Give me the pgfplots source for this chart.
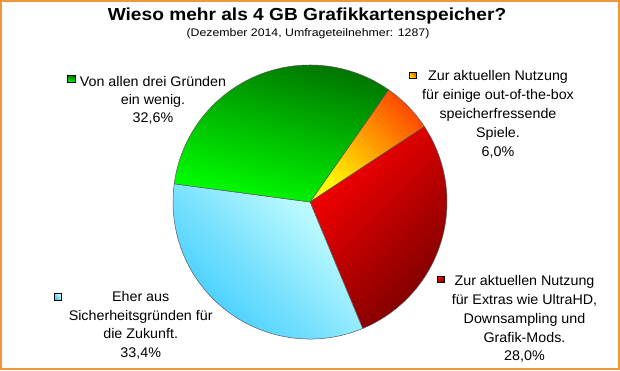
\documentclass[border=0pt]{standalone}
\usepackage{pgfplots}
\pgfplotsset{compat=1.18}
\usepackage{fontspec}
\setmainfont{Liberation Sans}
\newfontfamily\labelfont{Liberation Sans}[FakeStretch=1.025]
\newfontfamily\titlefont{Liberation Sans}[FakeStretch=1.097]
\newfontfamily\subfont{Liberation Sans}[FakeStretch=1.124]

\definecolor{frame}{RGB}{240,150,60}
\definecolor{grA}{RGB}{0,255,0}
\definecolor{grB}{RGB}{0,112,0}
\definecolor{orA}{RGB}{255,255,0}
\definecolor{orB}{RGB}{255,75,0}
\definecolor{rdA}{RGB}{255,0,0}
\definecolor{rdB}{RGB}{118,0,0}
\definecolor{blA}{RGB}{204,255,255}
\definecolor{blB}{RGB}{51,200,255}
\definecolor{edge}{RGB}{90,90,90}

% survey shares in percent
\def\vOr{6.0}
\def\vRd{28.0}
\def\vBl{33.4}
\def\vGr{32.6}
\def\startangle{55}
\pgfmathsetmacro\aOr{\startangle}
\pgfmathsetmacro\aRd{\aOr-3.6*\vOr}
\pgfmathsetmacro\aBl{\aRd-3.6*\vRd}
\pgfmathsetmacro\aGr{\aBl-3.6*\vBl}
\pgfmathsetmacro\aEnd{\aGr-3.6*\vGr}

\newcommand\slice[5]{%
  \shadedraw[top color=#3,bottom color=#4,shading angle=#5,draw=edge,line width=0.5bp]
    (axis cs:310,168) -- ++(#1:137bp) arc[start angle=#1,end angle=#2,radius=137bp] -- cycle;}
\newcommand\lab[3]{\node[anchor=base,inner sep=0pt,font=\labelfont\fontsize{14}{17}\selectfont] at (axis cs:#1,#2) {#3};}
\newcommand\legmark[7]{%
  \shadedraw[top color=#5,bottom color=#6,shading angle=#7,draw=black,line width=0.6bp]
    (axis cs:#1,#2) rectangle (axis cs:#3,#4);}

\begin{document}
\begin{tikzpicture}
\begin{axis}[
  width=620bp, height=370bp, scale only axis,
  xmin=0, xmax=620, ymin=0, ymax=370,
  hide axis, clip=false]
% frame
\draw[frame, line width=1.6bp] (axis cs:0.8,0.8) rectangle (axis cs:619.2,369.2);
% title
\node[anchor=base,inner sep=0pt] at (axis cs:307,349.3)
  {\titlefont\fontsize{17.5}{20}\selectfont\bfseries Wieso mehr als 4 GB Grafikkartenspeicher?};
\node[anchor=base,inner sep=0pt] at (axis cs:308,333.3)
  {\subfont\fontsize{11}{13}\selectfont (Dezember 2014, Umfrageteilnehmer: 1287)};
% pie
\slice{\aOr}{\aRd}{orB}{orA}{-45}
\slice{\aRd}{\aBl}{rdA}{rdB}{45}
\slice{\aBl}{\aGr}{blA}{blB}{-45}
\slice{\aGr}{\aEnd}{grB}{grA}{-15}
% labels: orange
\legmark{409}{291.3}{416.3}{298}{orB}{orA}{-45}
\lab{498}{289.3}{Zur aktuellen Nutzung}
\lab{498}{270.3}{für einige out-of-the-box}
\lab{498}{251.3}{speicherfressende}
\lab{498}{232.3}{Spiele.}
\lab{498}{213.3}{6,0\%}
% red
\legmark{437.7}{87.3}{444.5}{94}{rdA}{rdB}{45}
\lab{524.5}{84.3}{Zur aktuellen Nutzung}
\lab{524.5}{65.5}{für Extras wie UltraHD,}
\lab{524.5}{46.7}{Downsampling und}
\lab{524.5}{27.9}{Grafik-Mods.}
\lab{524.5}{9.1}{28,0\%}
% green
\legmark{67.7}{287.3}{75}{295}{grB}{grA}{-15}
\lab{153}{284}{Von allen drei Gründen}
\lab{153}{265.7}{ein wenig.}
\lab{153}{247.3}{32,6\%}
% blue
\legmark{54.3}{69.3}{61.7}{76.7}{blA}{blB}{-45}
\lab{140.7}{68.3}{Eher aus}
\lab{140.7}{49.8}{Sicherheitsgründen für}
\lab{140.7}{31.3}{die Zukunft.}
\lab{140.7}{12.8}{33,4\%}
\end{axis}
\end{tikzpicture}
\end{document}
